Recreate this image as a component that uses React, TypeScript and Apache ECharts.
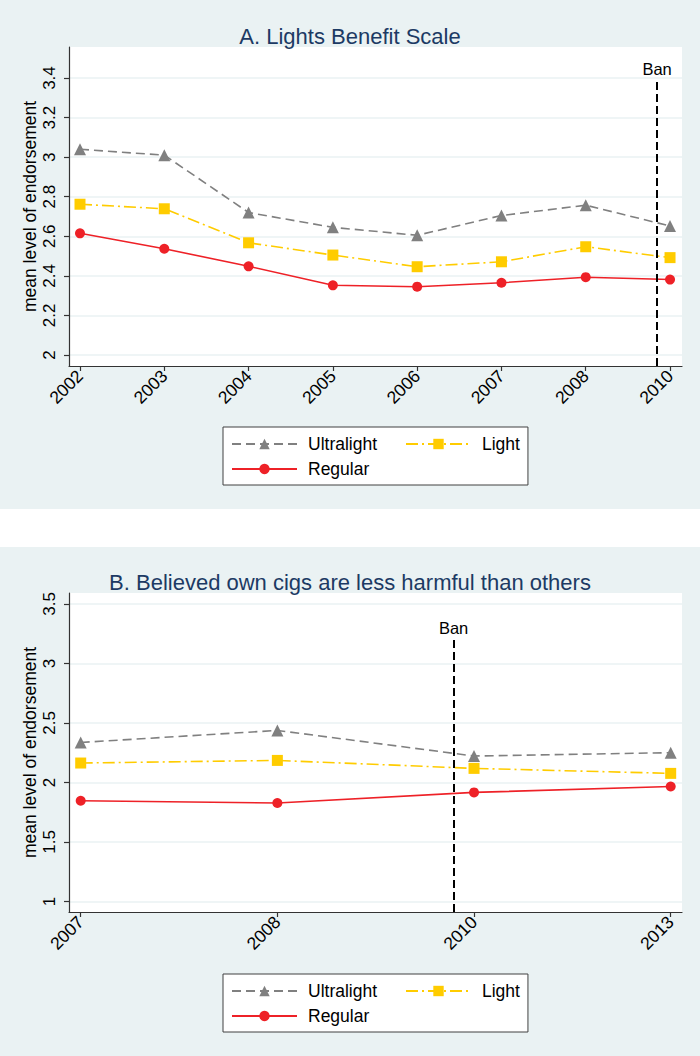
import React, { useEffect, useRef } from "react";
import * as echarts from "echarts";

// ---- Data ----
const yearsA = ["2002", "2003", "2004", "2005", "2006", "2007", "2008", "2010"];
const ultralightA = [3.04, 3.01, 2.72, 2.645, 2.605, 2.705, 2.757, 2.652];
const lightA = [2.762, 2.739, 2.567, 2.505, 2.446, 2.471, 2.547, 2.492];
const regularA = [2.615, 2.537, 2.448, 2.352, 2.345, 2.365, 2.393, 2.381];
const yTicksA = [2, 2.2, 2.4, 2.6, 2.8, 3, 3.2, 3.4];
const banA = 6.846; // position between 2008 and 2010 (category index scale)

const yearsB = ["2007", "2008", "2010", "2013"];
const ultralightB = [2.336, 2.437, 2.222, 2.25];
const lightB = [2.163, 2.185, 2.118, 2.076];
const regularB = [1.846, 1.827, 1.916, 1.966];
const yTicksB = [1, 1.5, 2, 2.5, 3, 3.5];
const banB = 1.896;

const titleA = "A. Lights Benefit Scale";
const titleB = "B. Believed own cigs are less harmful than others";
const yName = "mean level of endorsement";
const seriesNames = ["Ultralight", "Light", "Regular"];

const FONT = "'Liberation Sans', Arial, Helvetica, sans-serif";
const BG = "#eaf2f3";
const GRAY = "#808080";
const GOLD = "#ffcc00";
const RED = "#ee2127";
const AXIS = "#333333";

function fmtNum(v: number) {
  return String(+Number(v).toFixed(2));
}

function makeX(gridIndex: number, years: string[], min: number, max: number) {
  const idx = years.map((_, i) => i);
  return {
    gridIndex,
    type: "value",
    min,
    max,
    axisLine: { show: true, onZero: false, lineStyle: { color: AXIS, width: 1.2 } },
    axisTick: { show: true, length: 5, customValues: idx, lineStyle: { color: AXIS, width: 1.2 } },
    axisLabel: {
      customValues: idx,
      formatter: (v: number) => years[Math.round(v)] ?? "",
      rotate: 45,
      fontSize: 17.5,
      fontFamily: FONT,
      color: "#000",
      margin: 7,
    },
    splitLine: { show: false },
  };
}

function makeY(gridIndex: number, ticks: number[], min: number, max: number) {
  return {
    gridIndex,
    type: "value",
    min,
    max,
    axisLine: { show: true, onZero: false, lineStyle: { color: AXIS, width: 1.2 } },
    axisTick: { show: true, length: 5, customValues: ticks, lineStyle: { color: AXIS, width: 1.2 } },
    axisLabel: {
      customValues: ticks,
      formatter: (v: number) => fmtNum(v),
      rotate: 90,
      fontSize: 17,
      fontFamily: FONT,
      color: "#000",
      margin: 11,
    },
    splitLine: { show: true, lineStyle: { color: BG, width: 1.5 } },
    name: yName,
    nameLocation: "middle",
    nameGap: 30,
    nameMoveOverlap: false,
    nameTextStyle: { fontSize: 17.5, fontFamily: FONT, color: "#000" },
  };
}

function makeSeries(
  gi: number,
  ul: number[],
  li: number[],
  re: number[],
  ban: number,
  banBottom: number,
  banTop: number
) {
  const toPts = (arr: number[]) => arr.map((v, i) => [i, v]);
  return [
    {
      name: "Ultralight",
      type: "line",
      xAxisIndex: gi,
      yAxisIndex: gi,
      data: toPts(ul),
      symbol: "triangle",
      symbolSize: 12,
      itemStyle: { color: GRAY },
      lineStyle: { color: GRAY, width: 1.6, type: [9, 5] },
      z: 3,
    },
    {
      name: "Light",
      type: "line",
      xAxisIndex: gi,
      yAxisIndex: gi,
      data: toPts(li),
      symbol: "rect",
      symbolSize: 11,
      itemStyle: { color: GOLD },
      lineStyle: { color: GOLD, width: 1.6, type: [12, 4, 2, 4] },
      z: 3,
    },
    {
      name: "Regular",
      type: "line",
      xAxisIndex: gi,
      yAxisIndex: gi,
      data: toPts(re),
      symbol: "circle",
      symbolSize: 10,
      itemStyle: { color: RED },
      lineStyle: { color: RED, width: 1.6, type: "solid" },
      z: 3,
      markLine: {
        silent: true,
        symbol: ["none", "none"],
        animation: false,
        label: {
          show: true,
          position: "end",
          formatter: "Ban",
          color: "#000",
          fontSize: 16.5,
          fontFamily: FONT,
          distance: 3,
        },
        lineStyle: { color: "#000", width: 2, type: [8, 4] },
        data: [[{ coord: [ban, banBottom] }, { coord: [ban, banTop] }]],
      },
    },
  ];
}

function makeLegend(top: number) {
  return {
    left: 223,
    top,
    width: 300,
    orient: "horizontal",
    padding: [8, 8, 7, 8],
    itemWidth: 65,
    itemHeight: 13,
    itemGap: 7,
    backgroundColor: "#fff",
    borderColor: "#404040",
    borderWidth: 1,
    borderRadius: 0,
    textStyle: {
      fontSize: 17.5,
      lineHeight: 18,
      fontFamily: FONT,
      color: "#000",
      padding: [0, 0, 0, 6],
    },
    data: [
      { name: seriesNames[0], textStyle: { width: 90 } },
      { name: seriesNames[1] },
      { name: seriesNames[2], textStyle: { width: 90 } },
    ],
  };
}

export default function App() {
  const ref = useRef<HTMLDivElement>(null);
  useEffect(() => {
    if (!ref.current) return;
    const chart = echarts.init(ref.current, undefined, { renderer: "svg" });
    const option = {
      animation: false,
      backgroundColor: "#ffffff",
      graphic: [
        { type: "rect", z: -10, silent: true, shape: { x: 0, y: 0, width: 700, height: 509 }, style: { fill: BG } },
        { type: "rect", z: -10, silent: true, shape: { x: 0, y: 547, width: 700, height: 509 }, style: { fill: BG } },
      ],
      title: [
        {
          text: titleA,
          left: "center",
          top: 20,
          textStyle: { fontSize: 22, fontWeight: "normal", fontFamily: FONT, color: "#1c3a64" },
        },
        {
          text: titleB,
          left: "center",
          top: 566,
          textStyle: { fontSize: 22, fontWeight: "normal", fontFamily: FONT, color: "#1c3a64" },
        },
      ],
      legend: [makeLegend(427), makeLegend(974)],
      grid: [
        { left: 69, top: 47, width: 613, height: 319, show: true, backgroundColor: "#fff", borderWidth: 0, containLabel: false },
        { left: 69, top: 593, width: 613, height: 319, show: true, backgroundColor: "#fff", borderWidth: 0, containLabel: false },
      ],
      xAxis: [makeX(0, yearsA, -0.1305, 7.142), makeX(1, yearsB, -0.0595, 3.0575)],
      yAxis: [makeY(0, yTicksA, 1.944, 3.557), makeY(1, yTicksB, 0.911, 3.592)],
      series: [
        ...makeSeries(0, ultralightA, lightA, regularA, banA, 1.944, 3.39),
        ...makeSeries(1, ultralightB, lightB, regularB, banB, 0.911, 3.2),
      ],
    };
    chart.setOption(option as any);
    return () => chart.dispose();
  }, []);
  return (
    <div
      ref={ref}
      style={{ position: "absolute", left: 0, top: 0, width: 700, height: 1056 }}
    />
  );
}
